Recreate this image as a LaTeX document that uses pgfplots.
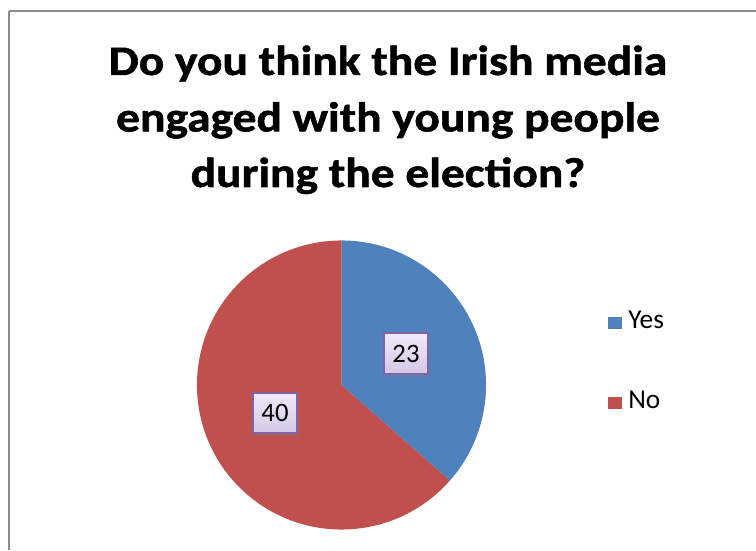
\documentclass[border=0pt]{standalone}
\usepackage{pgfplots}
\pgfplotsset{compat=1.18}
\usepackage{pgfplotstable}
\usepackage{fontspec}
\setmainfont{Carlito}
\newfontfamily\titlefont[FakeBold=1.2]{Carlito Bold}
\usetikzlibrary{shadows}
\definecolor{yesblue}{HTML}{4F81BD}
\definecolor{nored}{HTML}{C0504D}
\definecolor{boxtop}{HTML}{F0EAF8}
\definecolor{boxbot}{HTML}{D4C8E6}
\definecolor{boxedge}{HTML}{7F62A8}
\definecolor{framegray}{HTML}{8C8C8C}

\pgfplotstableread{
label value
Yes 23
No 40
}\piedata

\begin{document}
\begin{tikzpicture}
\pgfplotstablegetelem{0}{value}\of\piedata \let\vyes\pgfplotsretval
\pgfplotstablegetelem{1}{value}\of\piedata \let\vno\pgfplotsretval
\pgfmathsetmacro{\aend}{90-360*\vyes/(\vyes+\vno)}
\begin{axis}[
  at={(0,0)}, anchor=south west,
  scale only axis, width=567pt, height=412.5pt,
  xmin=0, xmax=756, ymin=0, ymax=550,
  hide axis, clip=true,
]
% frame (cropped at right and bottom)
\draw[framegray, line width=1.3pt] (axis cs:9,539) -- (axis cs:756,539);
\draw[framegray, line width=1.3pt] (axis cs:9,539) -- (axis cs:9,0);
% pie wedges from the data
\fill[yesblue] (axis cs:341.5,165) -- ++(90:108.4pt) arc[start angle=90, end angle=\aend, radius=108.4pt] -- cycle;
\fill[nored] (axis cs:341.5,165) -- ++(\aend:108.4pt) arc[start angle=\aend, end angle=-270, radius=108.4pt] -- cycle;
% data labels
\node[draw=boxedge, line width=1.4pt, top color=boxtop, bottom color=boxbot,
      minimum width=33.5pt, minimum height=30.5pt, inner sep=0pt,
      drop shadow={shadow xshift=1.5pt, shadow yshift=-2pt, opacity=0.3},
      font=\fontsize{20}{23}\selectfont] at (axis cs:406,196.5) {\vyes};
\node[draw=boxedge, line width=1.4pt, top color=boxtop, bottom color=boxbot,
      minimum width=33.5pt, minimum height=30.5pt, inner sep=0pt,
      drop shadow={shadow xshift=1.5pt, shadow yshift=-2pt, opacity=0.3},
      font=\fontsize{20}{23}\selectfont] at (axis cs:275,137) {\vno};
% title
\node[anchor=base, xscale=1.13, font=\fontsize{31.5}{42}\titlefont] at (axis cs:388,475) {Do you think the Irish media};
\node[anchor=base, xscale=1.13, font=\fontsize{31.5}{42}\titlefont] at (axis cs:388,418.5) {engaged with young people};
\node[anchor=base, xscale=1.13, font=\fontsize{31.5}{42}\titlefont] at (axis cs:388,363) {during the election?};
% legend
\fill[yesblue] (axis cs:607.5,221) rectangle (axis cs:621.5,233);
\fill[nored] (axis cs:607.5,141.5) rectangle (axis cs:621.5,153.5);
\node[anchor=base west, inner sep=0pt, font=\fontsize{20.5}{23}\selectfont] at (axis cs:628,221) {Yes};
\node[anchor=base west, inner sep=0pt, font=\fontsize{20.5}{23}\selectfont] at (axis cs:628,141.5) {No};
\end{axis}
\pgfresetboundingbox
\path (0,0) rectangle (567pt,412.5pt);
\end{tikzpicture}
\end{document}
